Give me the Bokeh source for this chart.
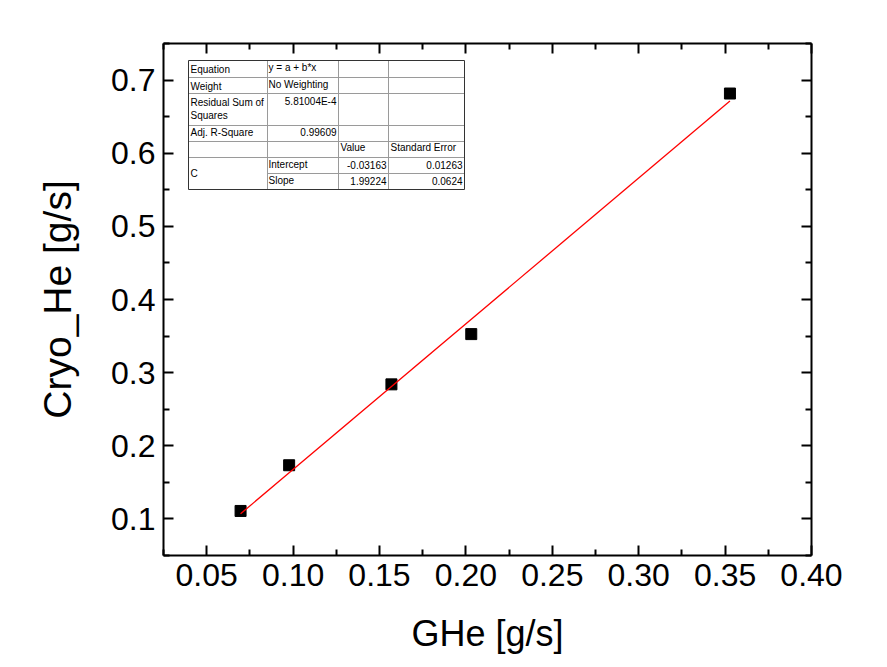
from bokeh.plotting import figure
from bokeh.models import Range1d, LinearAxis, FixedTicker
from bokeh.embed import file_html
from bokeh.resources import INLINE
from bokeh.core.properties import value

# ---- data ----
ghe = [0.0696, 0.0977, 0.1569, 0.2031, 0.3528]
cryo_he = [0.1109, 0.1734, 0.2840, 0.3527, 0.6816]
fit_intercept = -0.03163
fit_slope = 1.99224

x_title = "GHe [g/s]"
y_title = "Cryo_He [g/s]"
x_ticks = [0.05, 0.10, 0.15, 0.20, 0.25, 0.30, 0.35, 0.40]
x_tick_labels = ["0.05", "0.10", "0.15", "0.20", "0.25", "0.30", "0.35", "0.40"]
x_minor = [0.025, 0.075, 0.125, 0.175, 0.225, 0.275, 0.325, 0.375]
y_ticks = [0.1, 0.2, 0.3, 0.4, 0.5, 0.6, 0.7]
y_tick_labels = ["0.1", "0.2", "0.3", "0.4", "0.5", "0.6", "0.7"]
y_minor = [0.05, 0.15, 0.25, 0.35, 0.45, 0.55, 0.65, 0.75]

table_labels = ["Equation", "Weight", "Residual Sum of", "Squares", "Adj. R-Square"]
table_values = ["y = a + b*x", "No Weighting", "5.81004E-4", "0.99609"]
param_header = ["Value", "Standard Error"]
param_group = "C"
param_names = ["Intercept", "Slope"]
param_values = ["-0.03163", "1.99224"]
param_errors = ["0.01263", "0.0624"]

# ---- figure geometry (page pixels) ----
FL, FR, FT, FB = 163, 811, 43, 555
X0, X1, Y0, Y1 = 0.025, 0.40, 0.05, 0.75

def dx(px):
    return X0 + (px - FL) * (X1 - X0) / (FR - FL)

def dy(py):
    return Y1 - (py - FT) * (Y1 - Y0) / (FB - FT)

W, H = 880, 665
p = figure(width=W, height=H, x_range=Range1d(X0, X1), y_range=Range1d(Y0, Y1),
           output_backend="svg", toolbar_location=None,
           min_border_left=FL, min_border_top=FT,
           min_border_right=W - FR, min_border_bottom=H - FB,
           x_axis_label=x_title, y_axis_label=y_title)
p.outline_line_color = None
p.xgrid.visible = False
p.ygrid.visible = False
p.background_fill_color = "white"
p.border_fill_color = "white"

FONT = "Liberation Sans"

def style_axis(ax, ticks, minor, labels, show_labels):
    ax.ticker = FixedTicker(ticks=ticks, minor_ticks=minor)
    ax.axis_line_width = 2
    ax.axis_line_color = "black"
    ax.major_tick_line_width = 2
    ax.minor_tick_line_width = 2
    ax.major_tick_in = 10
    ax.major_tick_out = 0
    ax.minor_tick_in = 6
    ax.minor_tick_out = 0
    if show_labels:
        ax.major_label_overrides = {t: l for t, l in zip(ticks, labels)}
        ax.major_label_text_font = FONT
        ax.major_label_text_font_size = "32px"
        ax.major_label_text_color = "black"
        ax.major_label_standoff = 8
    else:
        ax.major_label_text_font_size = "1px"
        ax.major_label_text_color = None
        ax.major_label_standoff = 0

style_axis(p.xaxis[0], x_ticks, x_minor, x_tick_labels, True)
style_axis(p.yaxis[0], y_ticks, y_minor, y_tick_labels, True)
for ax, size, standoff in ((p.xaxis[0], "36px", 24), (p.yaxis[0], "39px", 29)):
    ax.axis_label_text_font = FONT
    ax.axis_label_text_font_size = size
    ax.axis_label_text_font_style = "normal"
    ax.axis_label_text_color = "black"
    ax.axis_label_standoff = standoff

top = LinearAxis()
style_axis(top, x_ticks, x_minor, x_tick_labels, False)
p.add_layout(top, "above")
right = LinearAxis()
style_axis(right, y_ticks, y_minor, y_tick_labels, False)
p.add_layout(right, "right")

# ---- data marks ----
p.scatter(ghe, cryo_he, marker="square", size=11, color="black")
xf = [min(ghe), max(ghe)]
yf = [fit_intercept + fit_slope * v for v in xf]
p.line(xf, yf, line_color="red", line_width=1.3)

# ---- fit table ----
cols = [188, 267, 338, 388, 464]
rows = [60, 77, 93, 125, 141, 157, 173, 189]
p.quad(left=dx(cols[0]), right=dx(cols[-1]), top=dy(rows[0]), bottom=dy(rows[-1]),
       fill_color="white", line_color=None)
hx0, hx1, hy = [], [], []
for r in rows[1:-1]:
    start = cols[1] if r == 173 else cols[0]
    hx0.append(dx(start)); hx1.append(dx(cols[-1])); hy.append(dy(r))
p.segment(x0=hx0, x1=hx1, y0=hy, y1=hy, line_color="#9a9a9a", line_width=1)
vx = [dx(c) for c in cols[1:-1]]
p.segment(x0=vx, x1=vx, y0=[dy(rows[0])] * len(vx), y1=[dy(rows[-1])] * len(vx),
          line_color="#9a9a9a", line_width=1)
p.quad(left=dx(cols[0]), right=dx(cols[-1]), top=dy(rows[0]), bottom=dy(rows[-1]),
       fill_color=None, line_color="#333333", line_width=1)

tf = value(FONT)
TS = "10px"
common = dict(text_font=tf, text_font_size=TS, text_baseline="middle", text_color="black")
p.text(x=[dx(190)] * 5, y=[dy(69), dy(85.5), dy(102), dy(115), dy(132)], text=table_labels,
       text_align="left", **common)
p.text(x=[dx(190)], y=[dy(173)], text=[param_group], text_align="left", **common)
p.text(x=[dx(268), dx(268)], y=[dy(67), dy(84)], text=table_values[:2], text_align="left", **common)
p.text(x=[dx(336), dx(336)], y=[dy(101), dy(131)], text=table_values[2:], text_align="right", **common)
p.text(x=[dx(268), dx(268)], y=[dy(164), dy(180)], text=param_names, text_align="left", **common)
p.text(x=[dx(340), dx(390)], y=[dy(147), dy(147)], text=param_header, text_align="left", **common)
p.text(x=[dx(386), dx(386)], y=[dy(164), dy(180)], text=param_values, text_align="right", **common)
p.text(x=[dx(462), dx(462)], y=[dy(164), dy(180)], text=param_errors, text_align="right", **common)

open("out.html", "w").write(file_html(p, INLINE))
